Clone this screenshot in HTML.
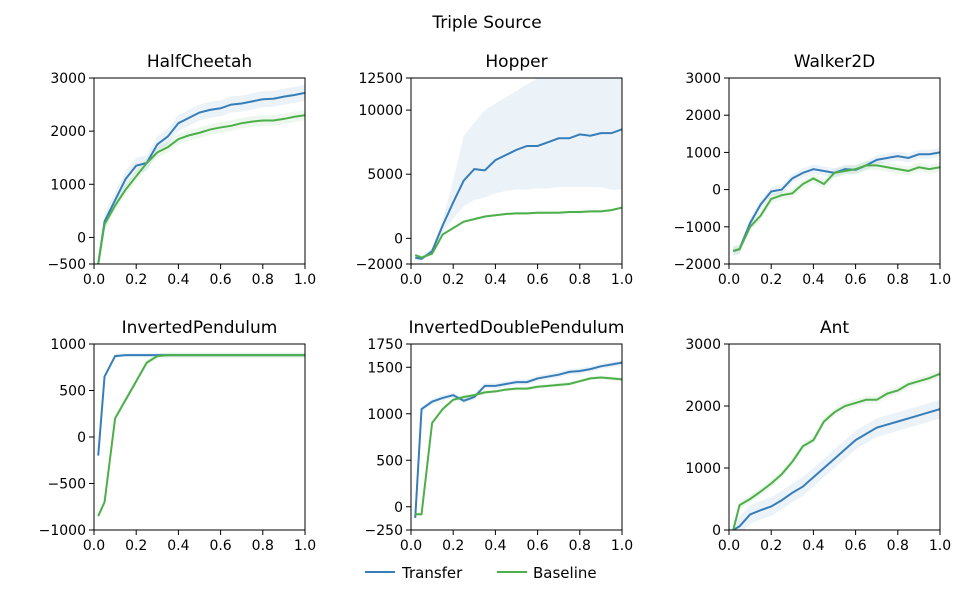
<!DOCTYPE html>
<html><head><meta charset="utf-8"><style>
body{margin:0;background:#fff;}
svg{font-family:"DejaVu Sans","Liberation Sans",sans-serif;}
</style></head><body>
<svg id="fig" width="975" height="598" viewBox="0 0 975 598">
<text x="487" y="28" text-anchor="middle" font-size="17">Triple Source</text>
<g>
<line x1="365" y1="572" x2="395" y2="572" stroke="#377eb8" stroke-width="2"/>
<text x="402" y="578" font-size="15">Transfer</text>
<line x1="497" y1="572" x2="527" y2="572" stroke="#4daf4a" stroke-width="2"/>
<text x="533" y="578" font-size="15">Baseline</text>
</g>
</svg>
<script>
const xs=[0.02,0.05,0.1,0.15,0.2,0.25,0.3,0.35,0.4,0.45,0.5,0.55,0.6,0.65,0.7,0.75,0.8,0.85,0.9,0.95,1.0];
const xTicks=[0,0.2,0.4,0.6,0.8,1.0];
const xTickLabels=["0.0","0.2","0.4","0.6","0.8","1.0"];
const titles=["HalfCheetah","Hopper","Walker2D","InvertedPendulum","InvertedDoublePendulum","Ant"];
const yRanges=[[-500,3000],[-2000,12500],[-2000,3000],[-1000,1000],[-250,1750],[0,3000]];
const yTicks=[[-500,0,1000,2000,3000],[-2000,0,5000,10000,12500],[-2000,-1000,0,1000,2000,3000],[-1000,-500,0,500,1000],[-250,0,500,1000,1500,1750],[0,1000,2000,3000]];
const cheetahT=[-500,300,700,1100,1350,1400,1750,1900,2150,2250,2350,2400,2430,2500,2520,2560,2600,2610,2650,2680,2720];
const cheetahB=[-500,250,600,900,1150,1400,1600,1700,1850,1920,1970,2030,2070,2100,2150,2180,2200,2200,2230,2270,2300];
const hopperT=[-1500,-1600,-1000,1000,2800,4500,5400,5300,6100,6500,6900,7200,7200,7500,7800,7800,8100,8000,8200,8200,8500];
const hopperB=[-1300,-1500,-1200,300,800,1300,1500,1700,1800,1900,1950,1950,2000,2000,2000,2050,2050,2100,2100,2200,2400];
const hopperHi=[-1300,-1300,-800,1500,4500,8000,9000,10000,10500,11000,11500,12000,12500,12500,12500,12500,12500,12500,12500,12500,12500];
const hopperLo=[-1700,-1800,-1200,500,1500,2500,3000,3200,3500,3700,3800,3800,3900,3900,4000,4000,4000,4000,4000,3800,3800];
const walkerT=[-1650,-1600,-900,-400,-50,0,300,450,550,500,450,550,530,650,800,850,900,850,950,950,1000];
const walkerB=[-1650,-1600,-1000,-700,-250,-150,-100,150,300,150,450,500,550,650,650,600,550,500,600,550,600];
const pendT=[-200,650,870,880,880,880,880,880,880,880,880,880,880,880,880,880,880,880,880,880,880];
const pendB=[-850,-700,200,400,600,800,870,880,880,880,880,880,880,880,880,880,880,880,880,880,880];
const dpendT=[-120,1050,1130,1170,1200,1140,1180,1300,1300,1320,1340,1340,1380,1400,1420,1450,1460,1480,1510,1530,1550];
const dpendB=[-80,-80,900,1050,1150,1180,1200,1230,1240,1260,1270,1270,1290,1300,1310,1320,1350,1380,1390,1380,1370];
const antT=[0,60,250,320,380,480,600,700,850,1000,1150,1300,1450,1550,1650,1700,1750,1800,1850,1900,1950];
const antB=[0,400,500,620,750,900,1100,1350,1450,1750,1900,2000,2050,2100,2100,2200,2250,2350,2400,2450,2520];
const transfer=[cheetahT,hopperT,walkerT,pendT,dpendT,antT];
const baseline=[cheetahB,hopperB,walkerB,pendB,dpendB,antB];
const tSpread=[150,0,120,20,30,150];
const bSpread=[100,100,120,30,20,60];

const NS="http://www.w3.org/2000/svg";
const svg=document.getElementById('fig');
const lefts=[94,411,729], tops=[78,344], W=211, H=186;
function mk(tag,attrs,parent){const e=document.createElementNS(NS,tag);for(const k in attrs)e.setAttribute(k,attrs[k]);parent.appendChild(e);return e;}
function slug(s){return s.replace(/([a-z])([A-Z0-9])/g,'$1-$2').toLowerCase();}
titles.forEach((t,i)=>{
  const L=lefts[i%3],T=tops[Math.floor(i/3)];
  const [y0,y1]=yRanges[i];
  const sx=v=>L+v*W, sy=v=>T+H-(v-y0)/(y1-y0)*H;
  const g=mk('g',{},svg);
  
  
  const tt=mk('text',{x:L+W/2,y:T-11,'text-anchor':'middle','font-size':17},g);tt.textContent=t;
  
  
  const cp='cp'+i;
  const cl=mk('clipPath',{id:cp},g);mk('rect',{x:L,y:T,width:W,height:H},cl);
  const pg=mk('g',{'clip-path':'url(#'+cp+')'},g);
  function band(lo,hi,col,name){
    let d='M'+xs.map((x,k)=>sx(x)+','+sy(hi[k])).join('L')+'L'+xs.slice().reverse().map((x,k)=>sx(x)+','+sy(lo[xs.length-1-k])).join('L')+'Z';
    const p=mk('path',{d:d,fill:col,'fill-opacity':0.1,stroke:'none'},pg);
    
    
  }
  function line(vals,col,name){
    const p=mk('path',{d:'M'+xs.map((x,k)=>sx(x)+','+sy(vals[k])).join('L'),fill:'none',stroke:col,'stroke-width':2},pg);
    
    
  }
  const tv=transfer[i], bv=baseline[i];
  if(i===1) band(hopperLo,hopperHi,'#377eb8','transfer-band');
  else band(tv.map(v=>v-tSpread[i]),tv.map(v=>v+tSpread[i]),'#377eb8','transfer-band');
  band(bv.map(v=>v-bSpread[i]),bv.map(v=>v+bSpread[i]),'#4daf4a','baseline-band');
  line(tv,'#377eb8','transfer-line');
  line(bv,'#4daf4a','baseline-line');
  const fr=mk('rect',{x:L,y:T,width:W,height:H,fill:'none',stroke:'#000','stroke-width':1},g);
  
  
  xTicks.forEach((v,k)=>{
    mk('line',{x1:sx(v),y1:T+H,x2:sx(v),y2:T+H+5,stroke:'#000'},g);
    const tx=mk('text',{x:sx(v),y:T+H+20,'text-anchor':'middle','font-size':14},g);tx.textContent=xTickLabels[k];
    
    
  });
  yTicks[i].forEach(v=>{
    mk('line',{x1:L-5,y1:sy(v),x2:L,y2:sy(v),stroke:'#000'},g);
    const ty=mk('text',{x:L-8,y:sy(v)+5,'text-anchor':'end','font-size':14},g);ty.textContent=(v<0?'\u2212'+(-v):String(v));
    
    
  });
});
</script>
</body></html>
